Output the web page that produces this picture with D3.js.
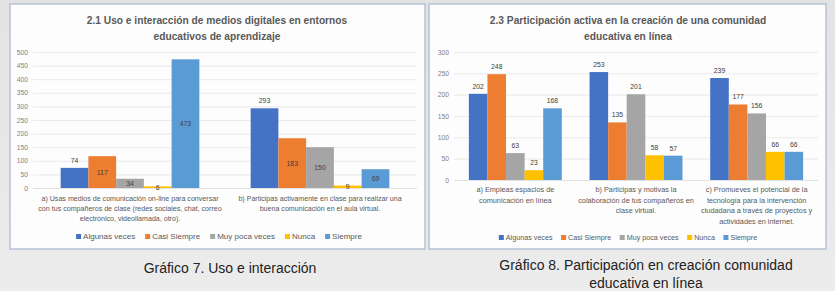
<!DOCTYPE html>
<html><head><meta charset="utf-8">
<script src="https://cdn.jsdelivr.net/npm/d3@7/dist/d3.min.js"></script>
<style>
html,body{margin:0;padding:0;background:#e6e6e6;}
svg{display:block;font-family:"Liberation Sans",Arial,sans-serif;}
</style></head>
<body><svg id="c" width="835" height="291"></svg>
<script>
// ---- data ----
const seriesNames = ["Algunas veces","Casi Siempre","Muy poca veces","Nunca","Siempre"];
const seriesColors = ["#4472C4","#ED7D31","#A5A5A5","#FFC000","#5B9BD5"];

const chart1Title = ["2.1 Uso e interacción de medios digitales en entornos","educativos de aprendizaje"];
const chart1Categories = [
  ["a) Usas medios de comunicación on-line para conversar","con tus compañeros de clase (redes sociales, chat, correo","electrónico, videollamada, otro)."],
  ["b) Participas activamente en clase para realizar una","buena comunicación en el aula virtual."]
];
const chart1Algunas = [74, 293];
const chart1Casi = [117, 183];
const chart1MuyPoca = [34, 150];
const chart1Nunca = [6, 9];
const chart1Siempre = [473, 69];
const chart1Ticks = [0,50,100,150,200,250,300,350,400,450,500];

const chart2Title = ["2.3 Participación activa en la creación de una comunidad","educativa en línea"];
const chart2Categories = [
  ["a) Empleas espacios de","comunicación en línea"],
  ["b) Participas y motivas la","colaboración de tus compañeros en","clase virtual."],
  ["c) Promueves el potencial de la","tecnología para la intervención","ciudadana a través de proyectos y","actividades en internet."]
];
const chart2Algunas = [202, 253, 239];
const chart2Casi = [248, 135, 177];
const chart2MuyPoca = [63, 201, 156];
const chart2Nunca = [23, 58, 66];
const chart2Siempre = [168, 57, 66];
const chart2Ticks = [0,50,100,150,200,250,300];

const caption1 = ["Gráfico 7. Uso e interacción"];
const caption2 = ["Gráfico 8. Participación en creación comunidad","educativa en línea"];

// ---- drawing ----
const svg = d3.select("#c");
const defs = svg.append("defs");
const lg = defs.append("linearGradient").attr("id","bg").attr("x1",0).attr("y1",0).attr("x2",0).attr("y2",1);
lg.append("stop").attr("offset","0%").attr("stop-color","#e3e3e3");
lg.append("stop").attr("offset","100%").attr("stop-color","#ececec");
svg.append("rect").attr("width",835).attr("height",291).attr("fill","url(#bg)");

function drawChart(cfg){
  const g = svg.append("g");
  g.append("rect").attr("x",cfg.panel[0]).attr("y",cfg.panel[1])
    .attr("width",cfg.panel[2]).attr("height",cfg.panel[3])
    .attr("fill","#fdfdfd").attr("stroke","#b7c2d6").attr("stroke-width",1.5);

  cfg.title.forEach((t,i)=>{
    g.append("text").attr("x",cfg.titleX).attr("y",cfg.titleY+i*16)
      .attr("text-anchor","middle").attr("font-size",cfg.titleSize).attr("font-weight","bold")
      .attr("fill","#595959").text(t);
  });

  const y = d3.scaleLinear().domain([0,cfg.ticks[cfg.ticks.length-1]]).range(cfg.yRange);
  const x0 = d3.scaleBand().domain(d3.range(cfg.categories.length)).range(cfg.xRange)
    .paddingInner(cfg.pad).paddingOuter(cfg.pad/2);
  const x1 = d3.scaleBand().domain(d3.range(seriesNames.length)).range([0,x0.bandwidth()]);

  const yAxis = d3.axisLeft(y).tickValues(cfg.ticks).tickSize(-(cfg.xRange[1]-cfg.xRange[0]+cfg.gridExtra)).tickPadding(5);
  const ag = g.append("g").attr("transform",`translate(${cfg.xRange[0]-cfg.gridExtra/2},0)`).call(yAxis);
  ag.select(".domain").remove();
  ag.selectAll(".tick line").attr("stroke","#e4e4e4").attr("stroke-width",0.8);
  ag.selectAll(".tick text").attr("fill","#7f7f7f").attr("font-size",6.7).attr("font-family","Liberation Sans, Arial");
  ag.selectAll(".tick").filter(d=>d===0).select("line").attr("stroke","#d9d9d9");

  cfg.series.forEach((vals,si)=>{
    vals.forEach((v,ci)=>{
      const bx = x0(ci)+x1(si);
      g.append("rect").attr("x",bx).attr("y",y(v)).attr("width",x1.bandwidth())
        .attr("height",y(0)-y(v)).attr("fill",seriesColors[si]);
      const mode = cfg.labelMode[si];
      const ly = mode==="above" ? y(v)-5 : (y(v)+y(0))/2+2.5;
      g.append("text").attr("x",bx+x1.bandwidth()/2).attr("y",ly)
        .attr("text-anchor","middle").attr("font-size",6.8).attr("fill","#404040").text(v);
    });
  });

  cfg.categories.forEach((lines,ci)=>{
    lines.forEach((t,li)=>{
      g.append("text").attr("x",x0(ci)+x0.bandwidth()/2).attr("y",cfg.catY+li*cfg.catLH)
        .attr("text-anchor","middle").attr("font-size",cfg.catSize).attr("fill","#595959").text(t);
    });
  });

  const leg = g.append("g");
  let lx = 0;
  seriesNames.forEach((n,i)=>{
    const it = leg.append("g").attr("transform",`translate(${lx},0)`);
    it.append("rect").attr("x",0).attr("y",-5).attr("width",5).attr("height",5).attr("fill",seriesColors[i]);
    const tx = it.append("text").attr("x",7).attr("y",0).attr("font-size",cfg.legSize).attr("fill","#595959").text(n);
    lx += 7 + tx.node().getComputedTextLength() + cfg.legGap;
  });
  const totalW = lx - cfg.legGap;
  leg.attr("transform",`translate(${cfg.legCenter-totalW/2},${cfg.legY})`);
}

drawChart({
  panel:[10,4,415,245], title:chart1Title, titleX:217, titleY:24, titleSize:10.2,
  ticks:chart1Ticks, yRange:[188,52], xRange:[35,415], gridExtra:4, pad:0.27,
  categories:chart1Categories, catY:201, catLH:9.8, catSize:7.1,
  series:[chart1Algunas,chart1Casi,chart1MuyPoca,chart1Nunca,chart1Siempre],
  labelMode:["above","center","center","center","center"],
  legCenter:219, legY:239, legSize:8, legGap:10
});
drawChart({
  panel:[429,4,397,245], title:chart2Title, titleX:628, titleY:24, titleSize:10.2,
  ticks:chart2Ticks, yRange:[180,52], xRange:[455,817], gridExtra:2, pad:0.23,
  categories:chart2Categories, catY:192, catLH:10.5, catSize:7.3,
  series:[chart2Algunas,chart2Casi,chart2MuyPoca,chart2Nunca,chart2Siempre],
  labelMode:["above","above","above","above","above"],
  legCenter:628, legY:240, legSize:7.2, legGap:8.5
});

caption1.forEach((t,i)=>{
  svg.append("text").attr("x",230).attr("y",273+i*18).attr("text-anchor","middle")
    .attr("font-size",14).attr("fill","#222").text(t);
});
caption2.forEach((t,i)=>{
  svg.append("text").attr("x",646).attr("y",270+i*18).attr("text-anchor","middle")
    .attr("font-size",14).attr("fill","#222").text(t);
});
</script></body></html>
